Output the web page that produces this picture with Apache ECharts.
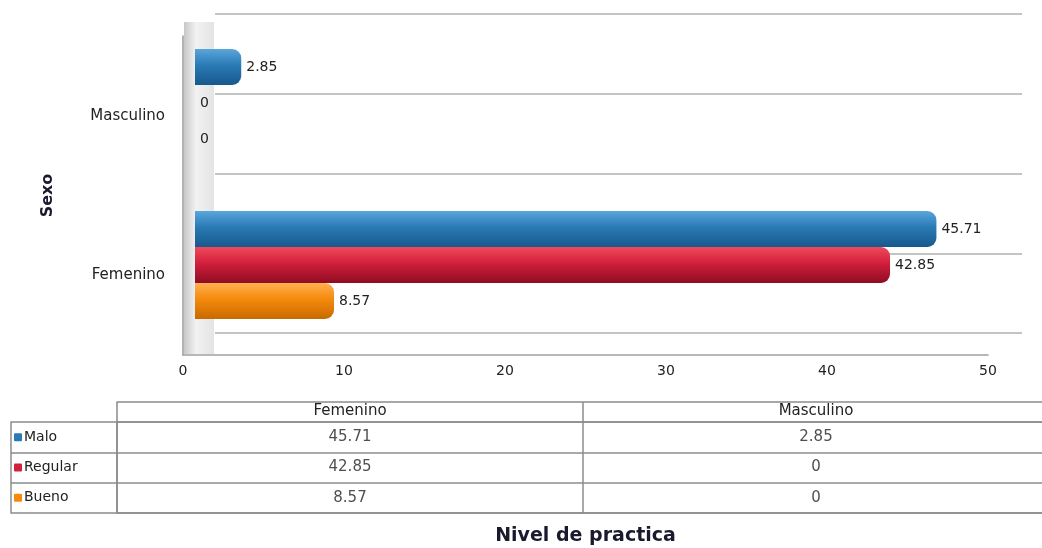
<!DOCTYPE html>
<html>
<head>
<meta charset="utf-8">
<script src="https://cdn.jsdelivr.net/npm/echarts@6/dist/echarts.min.js"></script>
<style>
  html, body { margin: 0; padding: 0; background: #fff; }
  #chart { width: 1042px; height: 548px; }
</style>
</head>
<body>
<div id="chart"></div>
<script>
// datos
const categorias = ["Masculino", "Femenino"];
const niveles = ["Malo", "Regular", "Bueno"];
const malo = [2.85, 45.71];
const regular = [0, 42.85];
const bueno = [0, 8.57];
const xTicks = [0, 10, 20, 30, 40, 50];

const valores = [malo, regular, bueno];
const colores = ["#2a7ab5", "#d21f3c", "#f58a0c"];
const gradientes = [
  ["#5aa6dc", "#2a7ab5", "#17598c"],
  ["#f04a5a", "#d21f3c", "#8e0c22"],
  ["#ffb050", "#f58a0c", "#c86a00"],
];
const fuente = "DejaVu Sans";

let myChart = echarts.init(document.getElementById("chart"));

function relleno(i) {
  const g = gradientes[i];
  return new echarts.graphic.LinearGradient(0, 0, 0, 1, [
    { offset: 0, color: g[0] },
    { offset: 0.45, color: g[1] },
    { offset: 1, color: g[2] },
  ]);
}

// series de barras
const barras = niveles.map((nombre, i) => ({
  name: nombre,
  type: "bar",
  xAxisIndex: 2,
  yAxisIndex: 2,
  barWidth: 36,
  barGap: "0%",
  data: valores[i],
  itemStyle: { color: relleno(i), borderRadius: [0, 9, 9, 0] },
  label: {
    show: true,
    position: "right",
    distance: 5,
    color: "#222",
    fontFamily: fuente,
    fontSize: 14,
  },
  z: 3,
}));

// celdas de la tabla
const celdas = [];
niveles.forEach((nombre, i) => {
  categorias.forEach((cat, j) => {
    celdas.push([cat, nombre, valores[i][j]]);
  });
});

const richLeyenda = { t: { fontFamily: fuente, fontSize: 14, color: "#222", padding: [0, 0, 0, 2] } };
niveles.forEach((n, i) => {
  richLeyenda["m" + i] = { width: 8, height: 8, backgroundColor: colores[i], borderRadius: 1 };
});

const lineaTabla = { show: true, lineStyle: { color: "#8c8c8c", width: 1.5 } };

let option = {
  backgroundColor: "#fff",
  animation: false,
  graphic: [
    {
      type: "rect",
      shape: { x: 184, y: 22, width: 30, height: 332 },
      style: {
        fill: new echarts.graphic.LinearGradient(0, 0, 1, 0, [
          { offset: 0, color: "#c8c8c8" },
          { offset: 0.4, color: "#f2f2f2" },
          { offset: 1, color: "#e4e4e4" },
        ]),
      },
      z: 0,
    },
  ],
  grid: [
    { left: 215, right: 20, top: 14, bottom: 215, outerBoundsMode: "none" },
    { left: 183, right: 54, top: 36, bottom: 193, outerBoundsMode: "none" },
    { left: 195, right: 36, top: 22, bottom: 202, outerBoundsMode: "none" },
    { left: 117, width: 932, top: 422, bottom: 35, outerBoundsMode: "none" },
  ],
  xAxis: [
    { gridIndex: 0, type: "value", show: false, min: 0, max: 1 },
    {
      gridIndex: 1,
      type: "value",
      min: 0,
      max: 50,
      interval: 10,
      axisLine: { show: true, lineStyle: { color: "#a0a0a0", width: 1.5 } },
      axisTick: { show: false },
      splitLine: { show: false },
      axisLabel: { color: "#222", fontFamily: fuente, fontSize: 14, margin: 9 },
      name: "Nivel de practica",
      nameLocation: "middle",
      nameGap: 172,
      nameTextStyle: { color: "#1a1a2e", fontFamily: fuente, fontSize: 19, fontWeight: "bold" },
    },
    { gridIndex: 2, type: "value", show: false, min: 0, max: 50 },
    {
      gridIndex: 3,
      type: "category",
      position: "top",
      data: categorias.slice().reverse(),
      axisLine: lineaTabla,
      axisTick: { show: true, interval: 0, length: 20, lineStyle: { color: "#8c8c8c", width: 1.5 } },
      splitLine: { show: true, interval: 0, lineStyle: { color: "#8c8c8c", width: 1.5 } },
      axisLabel: { color: "#222", fontFamily: fuente, fontSize: 15, margin: 3 },
    },
    {
      gridIndex: 3,
      type: "category",
      position: "top",
      offset: 20,
      data: categorias.slice().reverse(),
      axisLine: lineaTabla,
      axisTick: { show: false },
      axisLabel: { show: false },
    },
    {
      gridIndex: 3,
      type: "category",
      position: "bottom",
      data: categorias.slice().reverse(),
      axisLine: lineaTabla,
      axisTick: { show: false },
      axisLabel: { show: false },
    },
  ],
  yAxis: [
    {
      gridIndex: 0,
      type: "value",
      min: 0,
      max: 4,
      interval: 1,
      axisLine: { show: false },
      axisTick: { show: false },
      axisLabel: { show: false },
      splitLine: { show: true, lineStyle: { color: "#c4c4c4", width: 2 } },
    },
    {
      gridIndex: 1,
      type: "category",
      inverse: true,
      data: categorias,
      axisLine: { show: true, lineStyle: { color: "#9a9a9a", width: 1.5 } },
      axisTick: { show: false },
      axisLabel: { color: "#222", fontFamily: fuente, fontSize: 15, margin: 18 },
      name: "Sexo",
      nameLocation: "middle",
      nameRotate: 90,
      nameGap: 127,
      nameTextStyle: { color: "#1a1a2e", fontFamily: fuente, fontSize: 16, fontWeight: "bold" },
    },
    { gridIndex: 2, type: "category", inverse: true, data: categorias, show: false },
    {
      gridIndex: 3,
      type: "category",
      inverse: true,
      data: niveles,
      axisLine: lineaTabla,
      axisTick: { show: true, interval: 0, length: 106, lineStyle: { color: "#8c8c8c", width: 1.5 } },
      splitLine: { show: true, interval: 0, lineStyle: { color: "#8c8c8c", width: 1.5 } },
      axisLabel: {
        align: "left",
        margin: 103,
        formatter: (v, i) => "{m" + i + "|}{t|" + v + "}",
        rich: richLeyenda,
      },
    },
    {
      gridIndex: 3,
      type: "category",
      inverse: true,
      position: "left",
      offset: 106,
      data: niveles,
      axisLine: lineaTabla,
      axisTick: { show: false },
      axisLabel: { show: false },
    },
  ],
  series: [
    ...barras,
    {
      type: "scatter",
      xAxisIndex: 3,
      yAxisIndex: 3,
      symbolSize: 0,
      data: celdas,
      label: {
        show: true,
        position: "inside",
        formatter: (p) => String(p.data[2]),
        color: "#222",
        fontFamily: fuente,
        fontSize: 15,
      },
    },
  ],
};

option && myChart.setOption(option);
window.addEventListener("resize", function () {
  myChart.resize();
});
</script>
</body>
</html>
